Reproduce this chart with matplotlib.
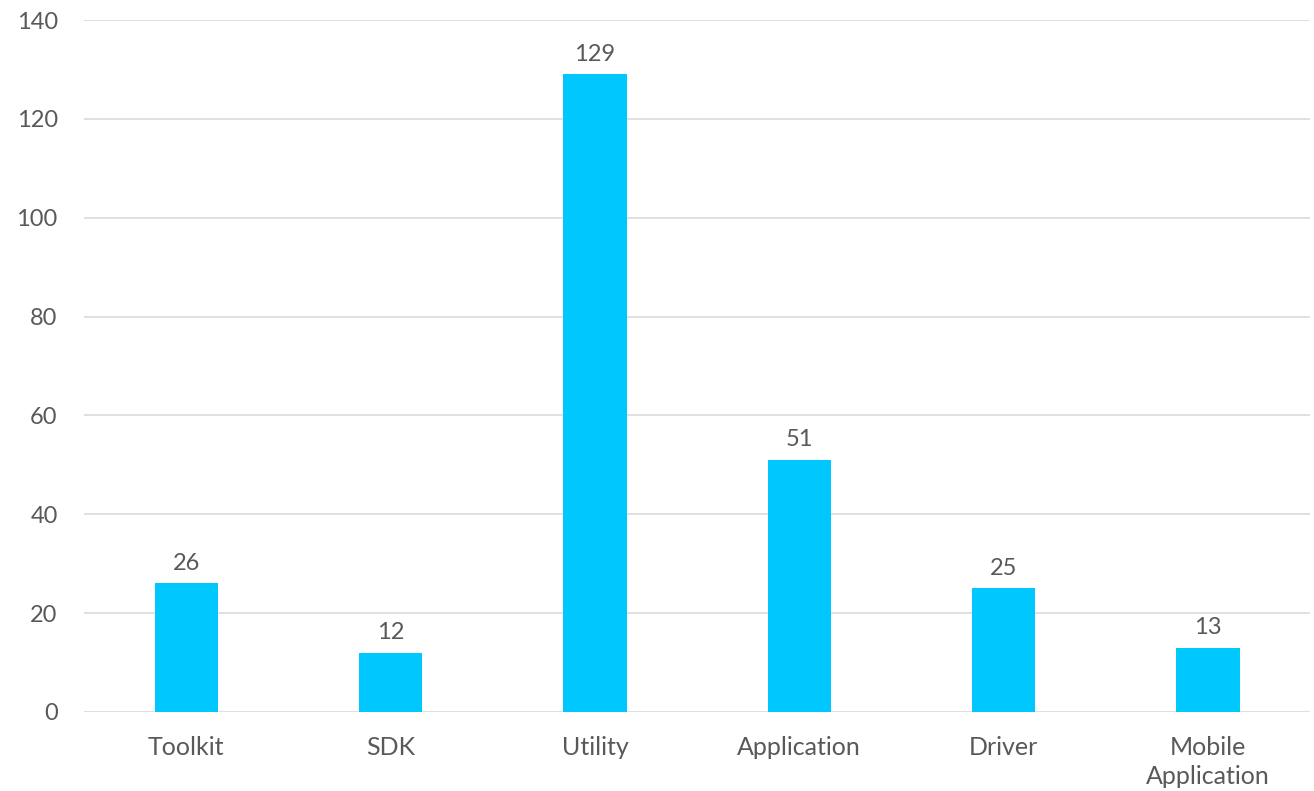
import matplotlib.pyplot as plt
import numpy as np

categories = ["Toolkit", "SDK", "Utility", "Application", "Driver", "Mobile\nApplication"]
counts = [26, 12, 129, 51, 25, 13]
yticks = [0, 20, 40, 60, 80, 100, 120, 140]

plt.rcParams['font.family'] = ['Lato', 'DejaVu Sans']

fig = plt.figure(figsize=(13.14, 7.91), dpi=100)
ax = fig.add_axes([0.064, 0.0999, 0.933, 0.8748])

x = np.arange(len(categories))
ax.bar(x, counts, width=0.31, color="#00C8FF", zorder=3)
# value label above each bar
for xi, v in zip(x, counts):
    ax.annotate(str(v), (xi, v), xytext=(0, 7), textcoords="offset points",
                ha="center", va="bottom", fontsize=17, color="#595959")

ax.set_xlim(-0.5, len(categories) - 0.5)
ax.set_ylim(0, 140)
ax.set_yticks(yticks)
ax.set_xticks(x)
ax.set_xticklabels(categories, fontsize=18, color="#595959", linespacing=1.35)
ax.tick_params(axis="y", labelsize=17, labelcolor="#595959", length=0, pad=19)
ax.tick_params(axis="x", length=0, pad=17)
ax.grid(axis="y", color="#DDDDDD", linewidth=1.3, zorder=0)
for s in ax.spines.values():
    s.set_visible(False)

fig.savefig("out.png", dpi=100)
